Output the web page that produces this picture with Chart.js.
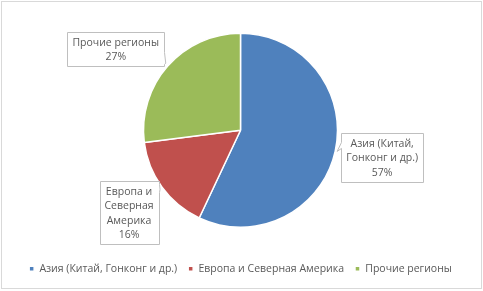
<!DOCTYPE html>
<html>
<head>
<meta charset="utf-8">
<script src="https://cdn.jsdelivr.net/npm/chart.js@4.4.1/dist/chart.umd.min.js"></script>
<style>
  html, body { margin: 0; padding: 0; background: #fff; }
  #wrap { width: 483px; height: 291px; position: relative; }
</style>
</head>
<body>
<div id="wrap"><canvas id="regionChart"></canvas></div>
<script>
// Chart data
const categories = ['Азия (Китай, Гонконг и др.)', 'Европа и Северная Америка', 'Прочие регионы'];
const shares = [57, 16, 27];
const calloutLines = [
  ['Азия (Китай,', 'Гонконг и др.)'],
  ['Европа и', 'Северная', 'Америка'],
  ['Прочие регионы']
];
const sliceColors = ['#4F81BD', '#C0504D', '#9BBB59'];

// where each callout box sits, relative to the slice's outer mid point
const calloutShift = [[47, 6], [-33, 25], [-52, -17]];

const FONT = '"Open Sans", "Noto Sans", sans-serif';

// light grey frame round the whole chart
const framePlugin = {
  id: 'frame',
  beforeDraw(chart) {
    const c = chart.ctx;
    c.save();
    c.fillStyle = '#fff';
    c.fillRect(0, 0, chart.width, chart.height);
    c.strokeStyle = '#d9d9d9';
    c.lineWidth = 1;
    c.strokeRect(1.5, 1.5, chart.width - 3, chart.height - 4);
    c.restore();
  }
};

// Excel-like data callouts
const calloutPlugin = {
  id: 'callouts',
  afterDatasetsDraw(chart) {
    const c = chart.ctx;
    const meta = chart.getDatasetMeta(0);
    c.save();
    c.font = '10.5px ' + FONT;
    c.textAlign = 'center';
    c.textBaseline = 'middle';
    meta.data.forEach((arc, i) => {
      const p = arc.getProps(['x', 'y', 'startAngle', 'endAngle', 'outerRadius'], true);
      const mid = (p.startAngle + p.endAngle) / 2;
      const ax = p.x + Math.cos(mid) * p.outerRadius;
      const ay = p.y + Math.sin(mid) * p.outerRadius;
      const lines = calloutLines[i].concat([shares[i] + '%']);
      const lh = 14.5;
      let w = 0;
      lines.forEach(t => { w = Math.max(w, c.measureText(t).width); });
      const bw = Math.round(w + 10);
      const bh = Math.round(lines.length * lh + 5);
      const cx = ax + calloutShift[i][0];
      const cy = ay + calloutShift[i][1];
      const x0 = Math.round(cx - bw / 2) + 0.5;
      const y0 = Math.round(cy - bh / 2) + 0.5;

      // box with a small pointer towards the slice
      c.beginPath();
      c.fillStyle = '#fff';
      c.strokeStyle = '#bfbfbf';
      c.lineWidth = 1;
      const tipX = ax + (cx > ax ? 2 : -2);
      const tipY = ay;
      if (cx > ax) {
        // pointer on the left side
        const ty = Math.min(Math.max(tipY - 12, y0 + 2), y0 + bh - 12);
        c.moveTo(x0, y0);
        c.lineTo(x0 + bw, y0);
        c.lineTo(x0 + bw, y0 + bh);
        c.lineTo(x0, y0 + bh);
        c.lineTo(x0, ty + 9);
        c.lineTo(tipX, tipY);
        c.lineTo(x0, ty + 3);
        c.closePath();
      } else if (cy < ay) {
        // pointer on the right side, going down
        const ty = y0 + bh;
        c.moveTo(x0, y0);
        c.lineTo(x0 + bw, y0);
        c.lineTo(x0 + bw, ty - 14);
        c.lineTo(tipX, tipY - 3);
        c.lineTo(x0 + bw, ty - 2);
        c.lineTo(x0 + bw, ty);
        c.lineTo(x0, ty);
        c.closePath();
      } else {
        // pointer on the right side, going up
        c.moveTo(x0, y0);
        c.lineTo(x0 + bw, y0);
        c.lineTo(x0 + bw, y0 + 3);
        c.lineTo(tipX, tipY + 2);
        c.lineTo(x0 + bw, y0 + 11);
        c.lineTo(x0 + bw, y0 + bh);
        c.lineTo(x0, y0 + bh);
        c.closePath();
      }
      c.fill();
      c.stroke();

      c.fillStyle = '#595959';
      lines.forEach((t, k) => {
        c.fillText(t, cx, y0 + 2.5 + lh / 2 + k * lh + 0.5);
      });
    });
    c.restore();
  }
};

const ctx = document.getElementById('regionChart').getContext('2d');
const regionChart = new Chart(ctx, {
  type: 'pie',
  data: {
    labels: categories,
    datasets: [{
      data: shares,
      backgroundColor: sliceColors,
      borderColor: '#fff',
      borderWidth: 1.5
    }]
  },
  options: {
    responsive: true,
    maintainAspectRatio: false,
    animation: false,
    radius: 97,
    layout: { padding: { top: 8, bottom: 7, left: 0, right: 2 } },
    plugins: {
      legend: {
        position: 'bottom',
        labels: {
          font: { family: FONT, size: 10.5 },
          color: '#595959',
          boxWidth: 5,
          boxHeight: 5,
          padding: 11,
          usePointStyle: true,
          pointStyle: 'rect'
        }
      },
      tooltip: { enabled: false }
    }
  },
  plugins: [framePlugin, calloutPlugin]
});
</script>
</body>
</html>
